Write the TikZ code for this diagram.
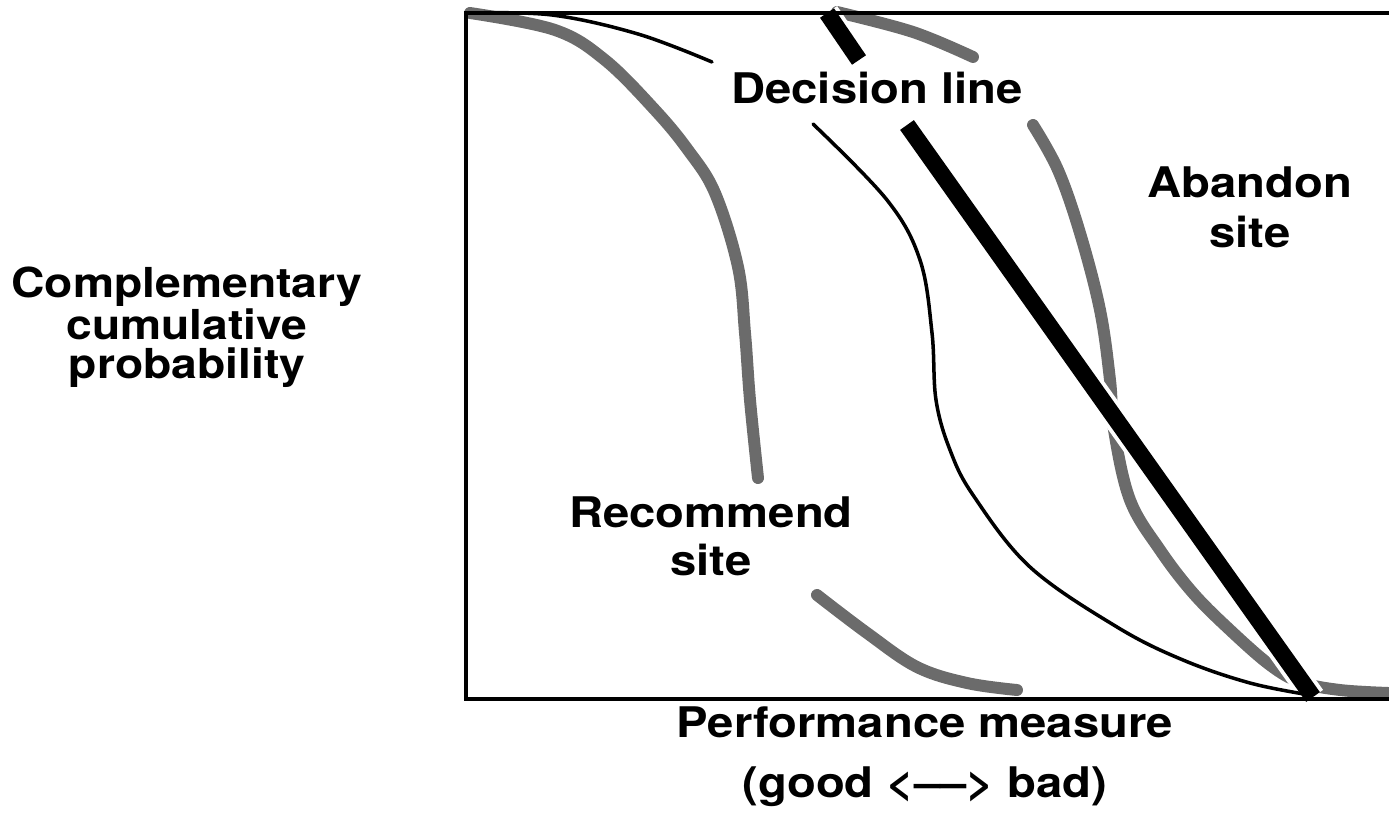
\documentclass[tikz,border=0pt]{standalone}
\usepackage{fontspec}
\setmainfont{TeX Gyre Heros}[FakeStretch=1.12]
\begin{document}
\begin{tikzpicture}[x=0.02cm,y=-0.02cm,
  band/.style={line width=6.8pt, black!58, line cap=round},
  ccdf/.style={line width=2pt, black, line cap=round},
  decline/.style={line width=9.6pt, black},
  halo/.style={line width=14pt, white},
  frame/.style={line width=1.8pt, black},
  lbl/.style={align=center, anchor=base, inner sep=0pt}]
\useasboundingbox (0,0) rectangle (1389,815);

% shaded bands: recommend (left) and abandon (right) limits
\draw[band] plot[smooth, tension=0.6] coordinates {(470,13) (555,30) (605,60) (655,110) (688,150) (715,193) (738,267) (745,333) (750,400) (758,478)};
\draw[band] plot[smooth, tension=0.6] coordinates {(817,595) (867,633) (917,667) (967,683) (1017,690)};
\draw[band] plot[smooth, tension=0.6] coordinates {(837,12) (913,32) (973,57)};
\draw[band] plot[smooth, tension=0.6] coordinates {(1033,125) (1058,170) (1080,233) (1100,310) (1110,380) (1114,430) (1130,500) (1160,550) (1193,593) (1230,630) (1270,665) (1300,682) (1340,690) (1389,693)};

% decision line end points
\coordinate (d0) at (827,13);
\coordinate (d1) at (859,60);
\coordinate (d2) at (907,125);
\coordinate (d3) at (1313,697);
\draw[halo] (d0) -- (d1);
\draw[halo] (d2) -- (d3);

% complementary cumulative distribution
\draw[ccdf] plot[smooth, tension=0.6] coordinates {(470,13) (552,15) (638,34) (712,62)};
\draw[ccdf] plot[smooth, tension=0.6] coordinates {(813,124) (887,200) (920,260) (932,333) (936,400) (950,450) (973,495) (1030,567) (1117,627) (1183,660) (1250,683) (1310,695)};

% axes frame
\draw[frame] (1389,13) -- (466,13) -- (466,699) -- (1389,699);

% decision line
\draw[decline] (d0) -- (d1);
\draw[decline] (d2) -- (d3);

% labels (anchored at the baseline of their last line)
\node[lbl, font=\bfseries\fontsize{23.5}{22.2}\selectfont] (cpl) at (187,378) {Complementary\\cumulative\\probability};
\node[lbl, font=\bfseries\fontsize{24}{27}\selectfont] (dec) at (877,103) {Decision line};
\node[lbl, font=\bfseries\fontsize{24}{27.9}\selectfont] (aban) at (1250,247) {Abandon\\site};
\node[lbl, font=\bfseries\fontsize{24}{27.3}\selectfont] (rec) at (711,575) {Recommend\\site};
\node[lbl, font=\bfseries\fontsize{24}{33.6}\selectfont] (perf) at (925,797) {Performance measure\\(good <––> bad)};
\end{tikzpicture}
\end{document}
